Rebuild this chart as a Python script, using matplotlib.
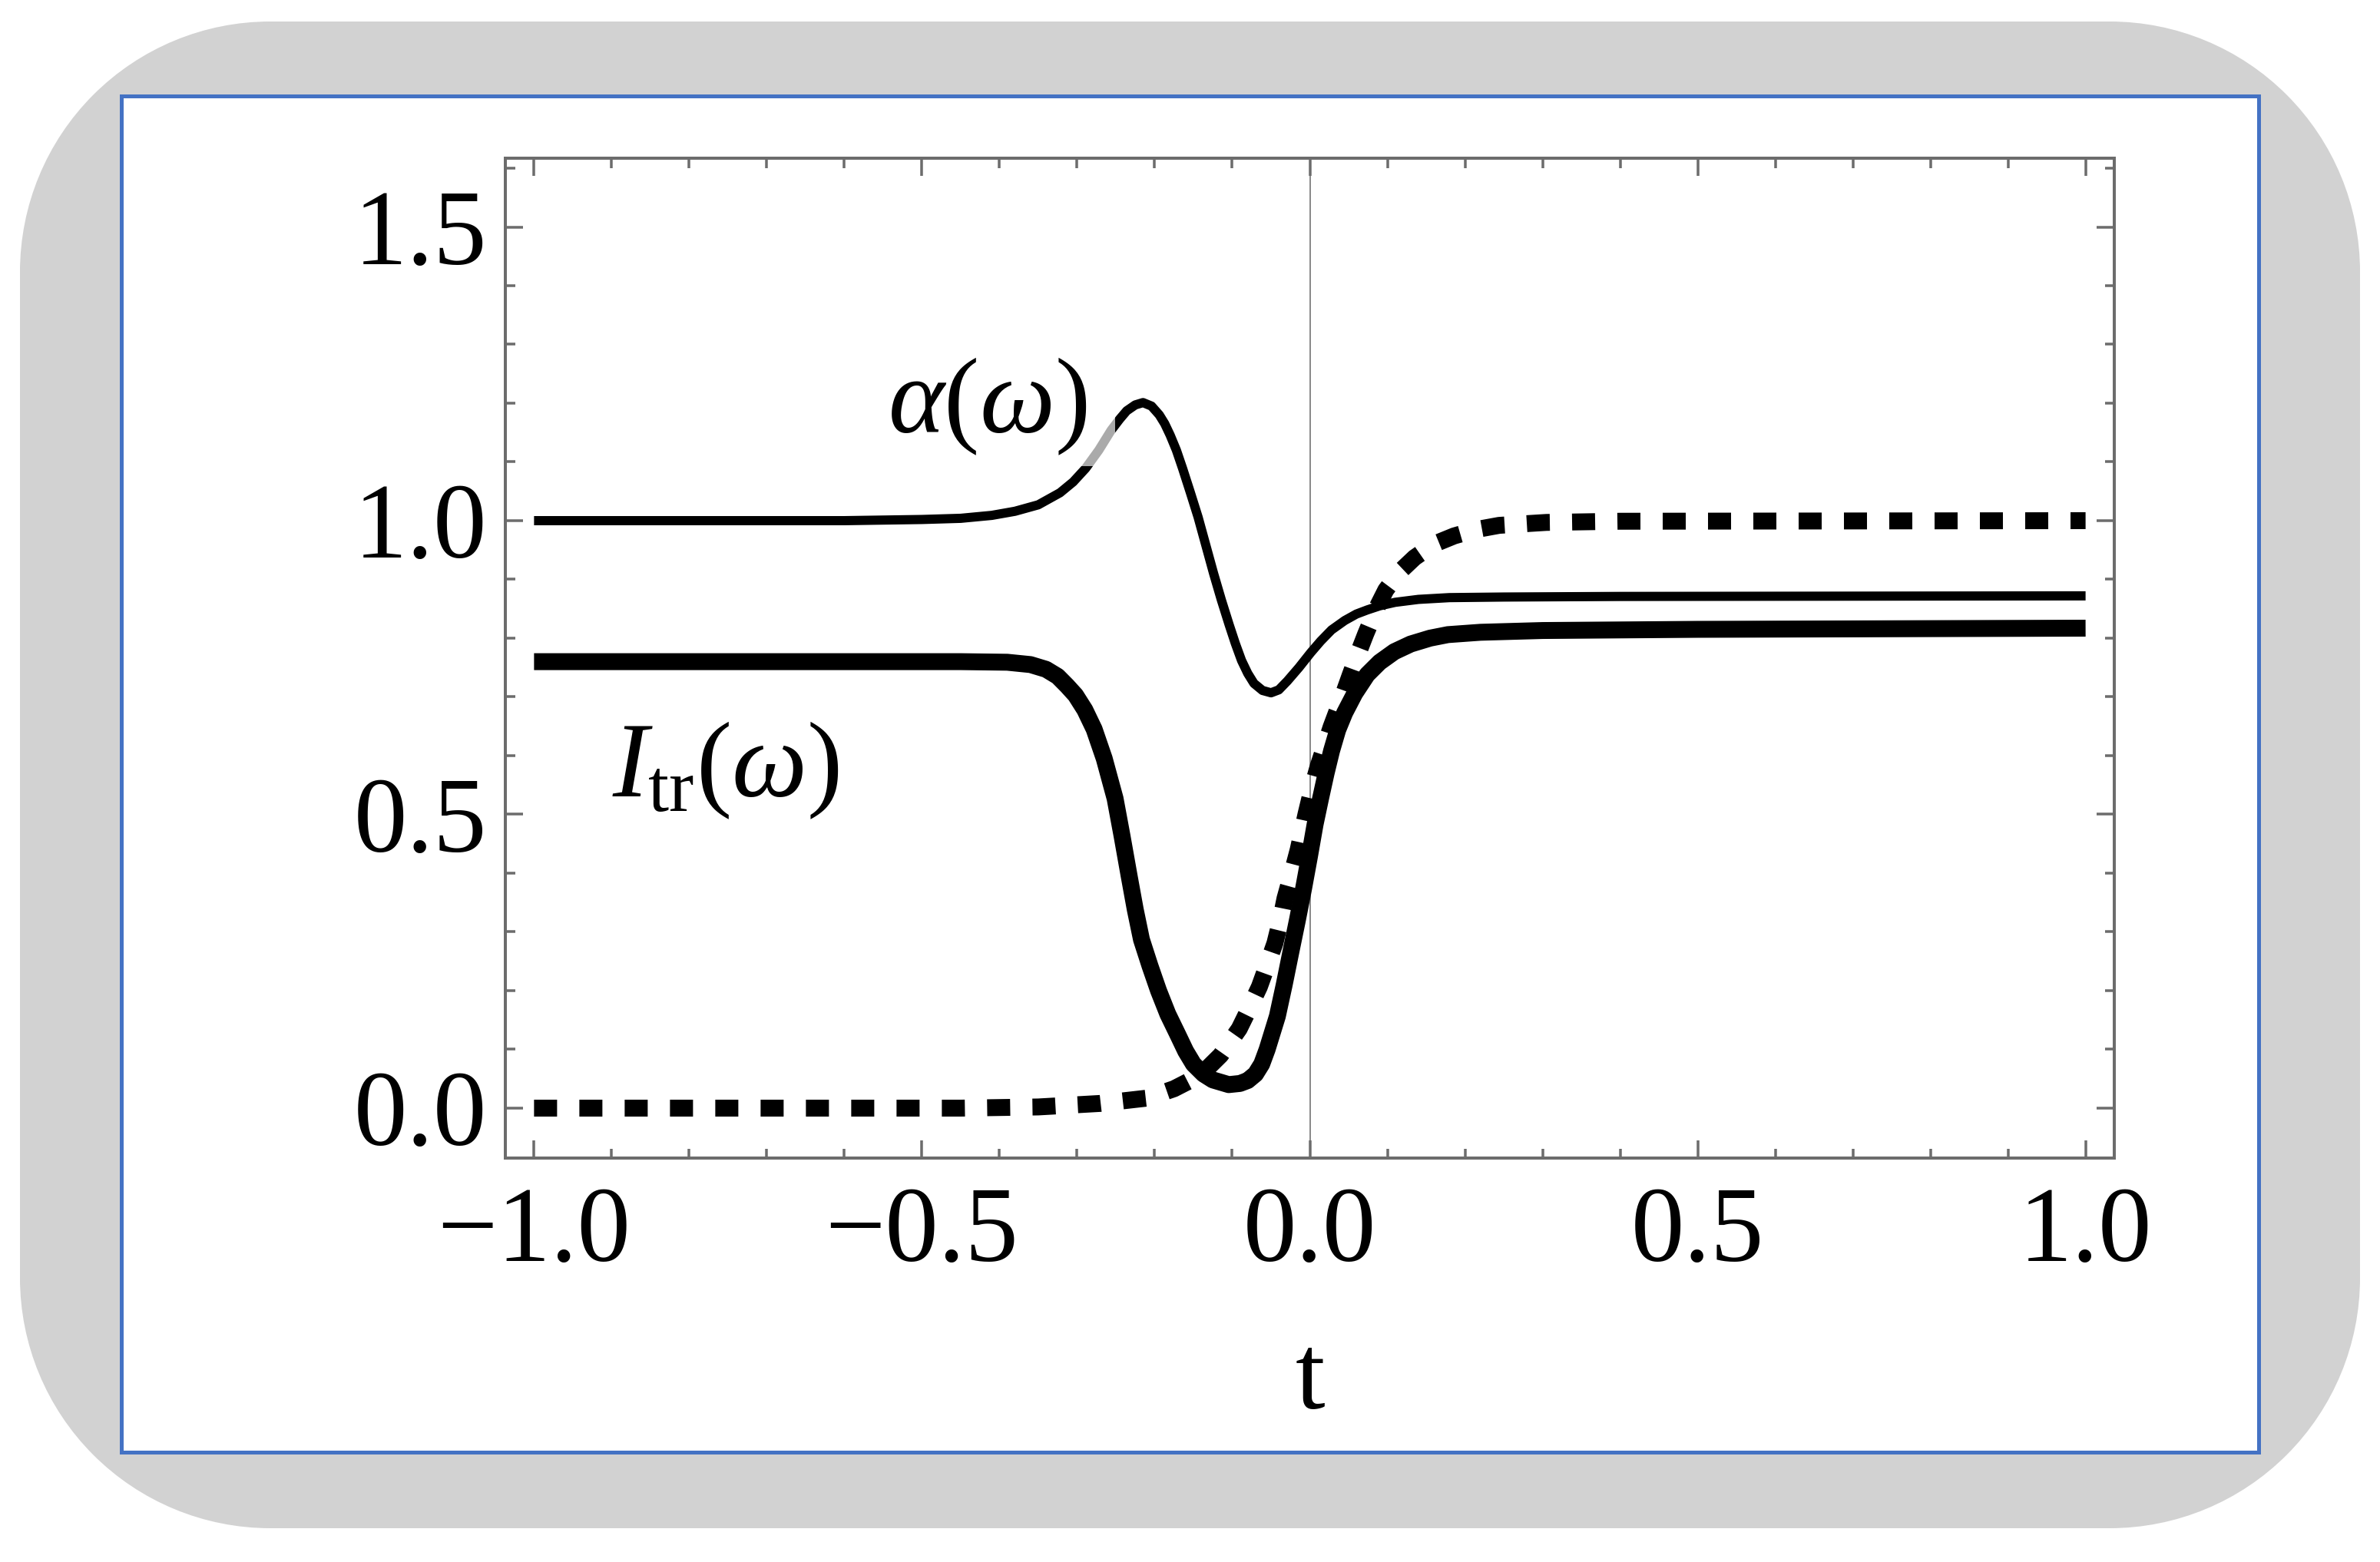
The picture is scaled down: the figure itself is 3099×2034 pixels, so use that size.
import matplotlib

matplotlib.use("Agg")
import matplotlib.pyplot as plt
from matplotlib.patches import PathPatch, Rectangle
from matplotlib.path import Path
from matplotlib.ticker import FixedLocator, MultipleLocator
from matplotlib.transforms import IdentityTransform, Affine2D

plt.rcParams["font.family"] = ["Liberation Serif", "DejaVu Serif"]
plt.rcParams["mathtext.fontset"] = "custom"
plt.rcParams["mathtext.rm"] = "Liberation Serif"
plt.rcParams["mathtext.it"] = "Liberation Serif:italic"

# values
alpha_t = [-1.0, -0.6, -0.5, -0.45, -0.41, -0.38, -0.35, -0.322, -0.305, -0.289,
           -0.272, -0.256, -0.245, -0.236, -0.225, -0.215, -0.204, -0.194, -0.187,
           -0.18, -0.172, -0.164, -0.154, -0.144, -0.134, -0.124, -0.114, -0.104,
           -0.096, -0.088, -0.08, -0.072, -0.061, -0.05, -0.04, -0.029, -0.014, 0.001,
           0.014, 0.028, 0.045, 0.06, 0.074, 0.09, 0.11, 0.14, 0.18, 0.25, 0.4, 1.0]
alpha_v = [1.0, 1.0, 1.002, 1.004, 1.009, 1.016, 1.027, 1.0475, 1.066, 1.089,
           1.12, 1.154, 1.173, 1.187, 1.197, 1.201, 1.195, 1.18, 1.165,
           1.1455, 1.12, 1.089, 1.048, 1.006, 0.958, 0.91, 0.865, 0.823,
           0.791, 0.762, 0.74, 0.723, 0.711, 0.707, 0.712, 0.727, 0.75, 0.775,
           0.795, 0.814, 0.83, 0.841, 0.848, 0.855, 0.861, 0.866, 0.869, 0.87, 0.871, 0.872]

itr_t = [-1.0, -0.45, -0.39, -0.36, -0.34, -0.325, -0.313, -0.302, -0.29, -0.278,
         -0.265, -0.251, -0.242, -0.233, -0.225, -0.217, -0.206, -0.195, -0.183,
         -0.1705, -0.16, -0.15, -0.137, -0.125, -0.1045, -0.09, -0.08, -0.07, -0.062,
         -0.055, -0.0418, -0.033, -0.0245, -0.016, -0.008, -0.0005, 0.0068, 0.014,
         0.021, 0.028, 0.036, 0.045, 0.058, 0.074, 0.09, 0.109, 0.13, 0.155, 0.178,
         0.22, 0.3, 0.5, 1.0]
itr_v = [0.76, 0.76, 0.759, 0.755, 0.747, 0.735, 0.719, 0.703, 0.678, 0.645,
         0.595, 0.527, 0.463, 0.396, 0.338, 0.287, 0.242, 0.2, 0.16,
         0.126, 0.097, 0.075, 0.058, 0.048, 0.04, 0.042, 0.047, 0.058, 0.075,
         0.1, 0.1565, 0.21, 0.2654, 0.32, 0.374, 0.428, 0.483, 0.528,
         0.57, 0.608, 0.644, 0.673, 0.706, 0.738, 0.759, 0.777, 0.79, 0.8, 0.806,
         0.81, 0.813, 0.815, 0.817]

step_t = [-1.0, -0.45, -0.35, -0.27, -0.21, -0.175, -0.141, -0.115, -0.091, -0.078,
          -0.065, -0.055, -0.045, -0.038, -0.032, -0.024, -0.015, -0.005, 0.005, 0.011,
          0.0275, 0.042, 0.052, 0.062, 0.072, 0.085, 0.098, 0.115, 0.135, 0.16, 0.186,
          0.215, 0.244, 0.305, 0.4, 1.0]
step_v = [0.0, 0.0, 0.002, 0.008, 0.017, 0.033, 0.056, 0.09, 0.135, 0.17,
          0.2065, 0.243, 0.2806, 0.318, 0.357, 0.395, 0.44, 0.5, 0.555, 0.583,
          0.649, 0.7, 0.737, 0.773, 0.807, 0.848, 0.882, 0.912, 0.937, 0.96, 0.974,
          0.985, 0.992, 0.997, 0.999, 1.0]

x_ticks = [-1.0, -0.5, 0.0, 0.5, 1.0]
x_labels = ["\u22121.0", "\u22120.5", "0.0", "0.5", "1.0"]
y_ticks = [0.0, 0.5, 1.0, 1.5]
y_labels = ["0.0", "0.5", "1.0", "1.5"]

W, H = 3099, 2034
px = 72 / 100  # points per pixel at dpi 100
frame_col = "#6c6c6c"


def rounded_rect(x0, y0, x1, y1, r):
    # closed path of a rectangle with circular corners, pixel units
    corners = [((x1 - r, y0 + r), 270), ((x1 - r, y1 - r), 0),
               ((x0 + r, y1 - r), 90), ((x0 + r, y0 + r), 180)]
    verts, codes = [], []
    for (cx, cy), start in corners:
        arc = Path.arc(start, start + 90)
        arc = arc.transformed(Affine2D().scale(r).translate(cx, cy))
        v = list(arc.vertices)
        c = list(arc.codes)
        if verts:
            c[0] = Path.LINETO
        verts += v
        codes += c
    verts.append(verts[0])
    codes.append(Path.CLOSEPOLY)
    return Path(verts, codes)


fig = plt.figure(figsize=(W / 100, H / 100), dpi=100)

# framing: grey rounded card, white panel with blue edge
card = PathPatch(rounded_rect(26, H - 1990, 3073, H - 28, 326),
                 transform=IdentityTransform(), fc="#d2d2d2", ec="none", zorder=-3)
panel = Rectangle((158, H - 1891), 2783, 1766, transform=IdentityTransform(),
                  fc="white", ec="#4472c4", lw=5 * px, zorder=-2)
fig.patches.extend([card, panel])

ax = fig.add_axes([658 / W, (H - 1508) / H, (2753 - 658) / W, (1508 - 206) / H])
ax.set_facecolor("none")

ax.axvline(0.0, color="#8a8a8a", lw=2 * px, zorder=1)
ax.plot(alpha_t, alpha_v, color="black", lw=12 * px, solid_capstyle="butt",
        solid_joinstyle="round", zorder=2)
ax.plot(itr_t, itr_v, color="black", lw=22 * px, solid_capstyle="butt",
        solid_joinstyle="round", zorder=2)
ax.plot(step_t, step_v, color="black", lw=22 * px, dashes=(30 / 22, 29 / 22),
        dash_capstyle="butt", zorder=2)

# label backdrop that greys the curve behind it
ax.add_patch(Rectangle((-0.58, 1.093), 0.329, 0.22, fc="white", ec="none",
                       alpha=0.67, zorder=2.5))
ax.text(-0.544, 1.15, r"$\alpha(\omega)$", fontsize=100, ha="left", va="baseline", zorder=3)
ax.text(-0.899, 0.53, r"$I_{\mathrm{tr}}(\omega)$", fontsize=100, ha="left",
        va="baseline", zorder=3)

ax.set_xlim(-1.037, 1.037)
ax.set_ylim(-0.085, 1.617)
ax.xaxis.set_major_locator(FixedLocator(x_ticks))
ax.set_xticklabels(x_labels)
ax.yaxis.set_major_locator(FixedLocator(y_ticks))
ax.set_yticklabels(y_labels)
ax.xaxis.set_minor_locator(MultipleLocator(0.1))
ax.yaxis.set_minor_locator(MultipleLocator(0.1))

for s in ax.spines.values():
    s.set_color(frame_col)
    s.set_linewidth(4 * px)
ax.tick_params(which="both", direction="in", top=True, right=True, color=frame_col,
               width=3.5 * px, labelsize=100)
ax.tick_params(which="major", length=23 * px)
ax.tick_params(which="minor", length=12.5 * px)
ax.tick_params(axis="x", pad=37 * px)
ax.tick_params(axis="y", pad=24 * px)
ax.set_xlabel("t", fontsize=100, labelpad=65 * px)

fig.savefig("out.png", dpi=100)
